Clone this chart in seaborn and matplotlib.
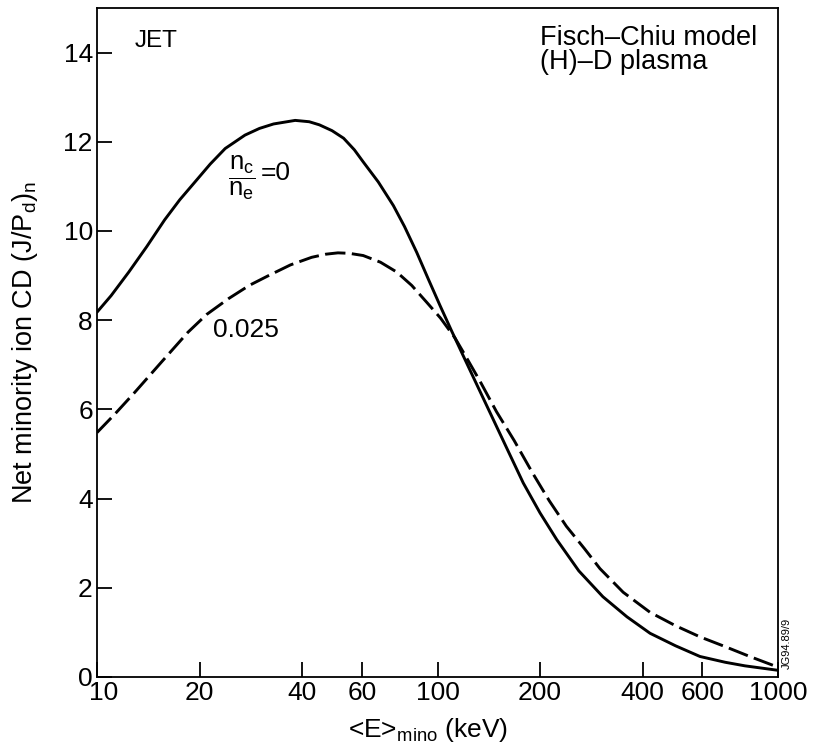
import numpy as np
import pandas as pd
import matplotlib
matplotlib.use("Agg")
import matplotlib.pyplot as plt
import matplotlib.transforms as mtransforms
import seaborn as sns

# ---- data ----
energy_solid = [10, 11, 12.4, 14, 15.8, 17.5, 19.4, 21.5, 23.8, 27.2, 30, 33,
                38.2, 42, 45, 49, 53, 57, 60.5, 67, 74.2, 80, 86.9, 94, 101.7,
                110, 120.4, 130, 142.6, 160, 178.6, 200, 224, 260, 306, 360,
                421, 500, 590, 700, 800, 1000]
cd_solid = [8.18, 8.55, 9.08, 9.65, 10.25, 10.7, 11.1, 11.5, 11.85, 12.15,
            12.3, 12.4, 12.48, 12.45, 12.38, 12.25, 12.08, 11.82, 11.55, 11.1,
            10.57, 10.1, 9.52, 8.92, 8.33, 7.76, 7.12, 6.58, 5.93, 5.12, 4.35,
            3.68, 3.08, 2.38, 1.80, 1.35, 0.98, 0.7, 0.46, 0.33, 0.25, 0.15]

energy_dashed = [10, 11.3, 12.9, 15.5, 18.5, 21, 24.3, 28, 31.9, 37, 42.7, 47,
                 51, 55, 60.5, 68, 75.9, 84, 93, 102, 112.6, 120.4, 134, 149,
                 168, 190, 213, 239, 270, 300, 351, 421, 500, 590, 700, 826,
                 1000]
cd_dashed = [5.48, 5.9, 6.38, 7.07, 7.73, 8.13, 8.48, 8.78, 9.0, 9.24, 9.41,
             9.48, 9.51, 9.5, 9.45, 9.3, 9.08, 8.78, 8.4, 8.05, 7.6, 7.22,
             6.6, 5.95, 5.3, 4.58, 3.95, 3.38, 2.88, 2.43, 1.9, 1.45, 1.15,
             0.9, 0.68, 0.46, 0.22]

series_names = ["0", "0.025"]
x_ticks = [10, 20, 40, 60, 100, 200, 400, 600, 1000]
x_tick_labels = ["10", "20", "40", "60", "100", "200", "400", "600", "1000"]
y_ticks = [0, 2, 4, 6, 8, 10, 12, 14]

df = pd.concat([
    pd.DataFrame({"E": energy_solid, "CD": cd_solid, "ratio": series_names[0]}),
    pd.DataFrame({"E": energy_dashed, "CD": cd_dashed, "ratio": series_names[1]}),
], ignore_index=True)

sns.set_theme(style="ticks")
plt.rcParams["font.family"] = ["Liberation Sans", "DejaVu Sans"]
plt.rcParams["mathtext.fontset"] = "custom"
plt.rcParams["mathtext.rm"] = "Liberation Sans"
plt.rcParams["mathtext.it"] = "Liberation Sans"
plt.rcParams["mathtext.bf"] = "Liberation Sans:bold"
for k in ["text.color", "axes.labelcolor", "xtick.color", "ytick.color",
          "axes.edgecolor"]:
    plt.rcParams[k] = "black"

fig = plt.figure(figsize=(8.14, 7.56), dpi=100)
ax = fig.add_axes([97 / 814, 79 / 756, 681 / 814, 669 / 756])

sns.lineplot(data=df, x="E", y="CD", style="ratio", ax=ax,
             dashes={series_names[0]: "", series_names[1]: (7, 2.2)},
             color="black", linewidth=2.1, legend=False, sort=True,
             estimator=None)

ax.set_xscale("log")
ax.set_xlim(10, 1000)
ax.set_ylim(0, 15)
ax.set_xticks(x_ticks)
ax.set_xticklabels(x_tick_labels)
ax.xaxis.set_minor_locator(matplotlib.ticker.NullLocator())
ax.set_yticks(y_ticks)
ax.set_yticklabels([str(v) for v in y_ticks])

ax.tick_params(axis="both", direction="in", length=11, width=1.3,
               colors="black", labelsize=19)
ax.tick_params(axis="x", pad=3)
ax.tick_params(axis="y", pad=3)
for s in ax.spines.values():
    s.set_visible(True)
    s.set_linewidth(1.3)
    s.set_color("black")

# nudge the "10" label right, as in the reference
first = ax.get_xticklabels()[0]
first.set_transform(first.get_transform() +
                    mtransforms.ScaledTranslation(7 / 100, 0, fig.dpi_scale_trans))

ax.set_xlabel(r"<E>$_\mathregular{mino}$ (keV)", fontsize=19)
ax.xaxis.set_label_coords(0.486, -0.058)
ax.set_ylabel(r"Net minority ion CD (J/P$_\mathregular{d}$)$_\mathregular{n}$",
              fontsize=19.5, labelpad=17)

ax.text(0.056, 0.967, "JET", transform=ax.transAxes, fontsize=17.5,
        ha="left", va="top")
ax.text(0.650, 0.975, "Fisch\u2013Chiu model", transform=ax.transAxes,
        fontsize=19.5, ha="left", va="top")
ax.text(0.650, 0.939, "(H)\u2013D plasma", transform=ax.transAxes,
        fontsize=19.5, ha="left", va="top")
ax.text(26.5, 11.2, r"$\dfrac{n_c}{n_e}$", fontsize=18.5, ha="center",
        va="center")
ax.text(30.3, 11.3, "=0", fontsize=19, ha="left", va="center")
ax.text(21.9, 7.78, "0.025", fontsize=19, ha="left", va="center")

fig.text(787 / 814, 1 - 643 / 756, "JG94.89/9", rotation=90, fontsize=8,
         ha="center", va="center")

fig.savefig("out.png", dpi=100, facecolor="white")
